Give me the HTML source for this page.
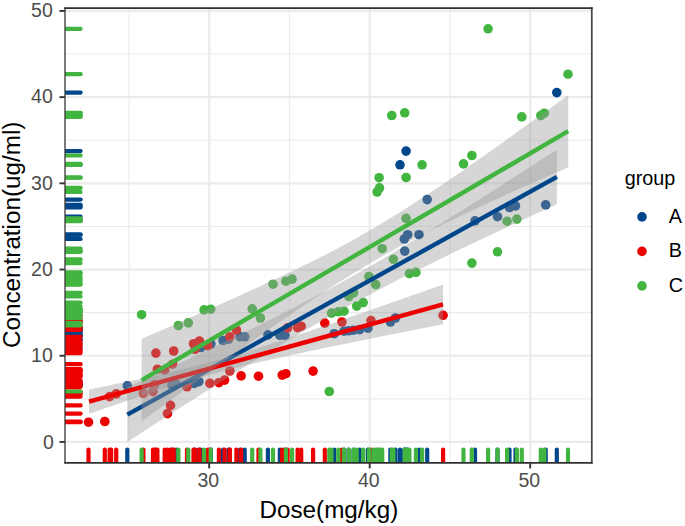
<!DOCTYPE html>
<html><head><meta charset="utf-8"><title>plot</title>
<style>html,body{margin:0;padding:0;background:#fff}svg{display:block}</style></head>
<body>
<svg width="685" height="526" viewBox="0 0 685 526" font-family="'Liberation Sans', Arial, Helvetica, sans-serif">
<rect width="685" height="526" fill="#fff"/>
<g stroke="#EBEBEB" fill="none">
<line x1="128.95" x2="128.95" y1="8.0" y2="462.75" stroke-width="1.1"/>
<line x1="289.45" x2="289.45" y1="8.0" y2="462.75" stroke-width="1.1"/>
<line x1="449.95" x2="449.95" y1="8.0" y2="462.75" stroke-width="1.1"/>
<line y1="398.83" y2="398.83" x1="65.0" x2="591.8" stroke-width="1.1"/>
<line y1="312.63" y2="312.63" x1="65.0" x2="591.8" stroke-width="1.1"/>
<line y1="226.43" y2="226.43" x1="65.0" x2="591.8" stroke-width="1.1"/>
<line y1="140.23" y2="140.23" x1="65.0" x2="591.8" stroke-width="1.1"/>
<line y1="54.03" y2="54.03" x1="65.0" x2="591.8" stroke-width="1.1"/>
<line x1="209.20" x2="209.20" y1="8.0" y2="462.75" stroke-width="2.2"/>
<line x1="369.70" x2="369.70" y1="8.0" y2="462.75" stroke-width="2.2"/>
<line x1="530.20" x2="530.20" y1="8.0" y2="462.75" stroke-width="2.2"/>
<line y1="441.93" y2="441.93" x1="65.0" x2="591.8" stroke-width="2.2"/>
<line y1="355.73" y2="355.73" x1="65.0" x2="591.8" stroke-width="2.2"/>
<line y1="269.53" y2="269.53" x1="65.0" x2="591.8" stroke-width="2.2"/>
<line y1="183.33" y2="183.33" x1="65.0" x2="591.8" stroke-width="2.2"/>
<line y1="97.13" y2="97.13" x1="65.0" x2="591.8" stroke-width="2.2"/>
<line y1="10.93" y2="10.93" x1="65.0" x2="591.8" stroke-width="2.2"/>
</g>
<g>
<circle cx="127.3" cy="385.8" r="4.8" fill="#00468B"/>
<circle cx="172.0" cy="385.2" r="4.8" fill="#00468B"/>
<circle cx="176.1" cy="384.0" r="4.8" fill="#00468B"/>
<circle cx="194.2" cy="383.4" r="4.8" fill="#00468B"/>
<circle cx="198.9" cy="381.7" r="4.8" fill="#00468B"/>
<circle cx="201.0" cy="347.5" r="4.8" fill="#00468B"/>
<circle cx="210.9" cy="344.0" r="4.8" fill="#00468B"/>
<circle cx="223.1" cy="340.5" r="4.8" fill="#00468B"/>
<circle cx="228.4" cy="339.3" r="4.8" fill="#00468B"/>
<circle cx="240.1" cy="336.8" r="4.8" fill="#00468B"/>
<circle cx="244.7" cy="336.8" r="4.8" fill="#00468B"/>
<circle cx="267.9" cy="334.9" r="4.8" fill="#00468B"/>
<circle cx="279.8" cy="335.3" r="4.8" fill="#00468B"/>
<circle cx="284.9" cy="335.3" r="4.8" fill="#00468B"/>
<circle cx="334.2" cy="333.7" r="4.8" fill="#00468B"/>
<circle cx="344.0" cy="331.2" r="4.8" fill="#00468B"/>
<circle cx="348.5" cy="330.8" r="4.8" fill="#00468B"/>
<circle cx="353.6" cy="330.2" r="4.8" fill="#00468B"/>
<circle cx="359.7" cy="329.6" r="4.8" fill="#00468B"/>
<circle cx="367.9" cy="328.2" r="4.8" fill="#00468B"/>
<circle cx="390.4" cy="322.0" r="4.8" fill="#00468B"/>
<circle cx="395.5" cy="318.0" r="4.8" fill="#00468B"/>
<circle cx="404.7" cy="251.1" r="4.8" fill="#00468B"/>
<circle cx="406.1" cy="151.1" r="4.8" fill="#00468B"/>
<circle cx="400.0" cy="164.8" r="4.8" fill="#00468B"/>
<circle cx="427.2" cy="199.6" r="4.8" fill="#00468B"/>
<circle cx="407.7" cy="234.7" r="4.8" fill="#00468B"/>
<circle cx="404.3" cy="239.0" r="4.8" fill="#00468B"/>
<circle cx="419.0" cy="234.7" r="4.8" fill="#00468B"/>
<circle cx="556.8" cy="92.6" r="4.8" fill="#00468B"/>
<circle cx="545.7" cy="204.9" r="4.8" fill="#00468B"/>
<circle cx="515.5" cy="205.9" r="4.8" fill="#00468B"/>
<circle cx="509.5" cy="207.5" r="4.8" fill="#00468B"/>
<circle cx="497.5" cy="216.7" r="4.8" fill="#00468B"/>
<circle cx="475.0" cy="220.8" r="4.8" fill="#00468B"/>
<circle cx="88.5" cy="422.2" r="4.8" fill="#ED0000"/>
<circle cx="104.8" cy="421.5" r="4.8" fill="#ED0000"/>
<circle cx="109.6" cy="396.6" r="4.8" fill="#ED0000"/>
<circle cx="116.2" cy="393.9" r="4.8" fill="#ED0000"/>
<circle cx="143.4" cy="393.4" r="4.8" fill="#ED0000"/>
<circle cx="153.0" cy="391.6" r="4.8" fill="#ED0000"/>
<circle cx="154.5" cy="384.6" r="4.8" fill="#ED0000"/>
<circle cx="155.9" cy="353.1" r="4.8" fill="#ED0000"/>
<circle cx="173.7" cy="351.0" r="4.8" fill="#ED0000"/>
<circle cx="157.4" cy="369.2" r="4.8" fill="#ED0000"/>
<circle cx="164.7" cy="370.0" r="4.8" fill="#ED0000"/>
<circle cx="172.6" cy="364.2" r="4.8" fill="#ED0000"/>
<circle cx="170.5" cy="405.4" r="4.8" fill="#ED0000"/>
<circle cx="167.5" cy="413.6" r="4.8" fill="#ED0000"/>
<circle cx="187.0" cy="386.8" r="4.8" fill="#ED0000"/>
<circle cx="193.5" cy="343.7" r="4.8" fill="#ED0000"/>
<circle cx="199.4" cy="341.0" r="4.8" fill="#ED0000"/>
<circle cx="195.1" cy="349.3" r="4.8" fill="#ED0000"/>
<circle cx="207.9" cy="345.7" r="4.8" fill="#ED0000"/>
<circle cx="209.9" cy="383.3" r="4.8" fill="#ED0000"/>
<circle cx="218.9" cy="382.7" r="4.8" fill="#ED0000"/>
<circle cx="224.6" cy="380.1" r="4.8" fill="#ED0000"/>
<circle cx="229.8" cy="371.0" r="4.8" fill="#ED0000"/>
<circle cx="241.1" cy="375.9" r="4.8" fill="#ED0000"/>
<circle cx="258.5" cy="376.2" r="4.8" fill="#ED0000"/>
<circle cx="282.2" cy="375.1" r="4.8" fill="#ED0000"/>
<circle cx="285.9" cy="373.7" r="4.8" fill="#ED0000"/>
<circle cx="313.1" cy="371.1" r="4.8" fill="#ED0000"/>
<circle cx="324.8" cy="323.1" r="4.8" fill="#ED0000"/>
<circle cx="297.6" cy="327.6" r="4.8" fill="#ED0000"/>
<circle cx="301.2" cy="326.2" r="4.8" fill="#ED0000"/>
<circle cx="287.6" cy="327.8" r="4.8" fill="#ED0000"/>
<circle cx="236.4" cy="330.0" r="4.8" fill="#ED0000"/>
<circle cx="229.8" cy="336.8" r="4.8" fill="#ED0000"/>
<circle cx="341.9" cy="322.0" r="4.8" fill="#ED0000"/>
<circle cx="371.0" cy="320.6" r="4.8" fill="#ED0000"/>
<circle cx="443.1" cy="315.3" r="4.8" fill="#ED0000"/>
<circle cx="141.6" cy="314.7" r="4.8" fill="#42B540"/>
<circle cx="178.4" cy="325.5" r="4.8" fill="#42B540"/>
<circle cx="188.3" cy="322.9" r="4.8" fill="#42B540"/>
<circle cx="204.1" cy="309.9" r="4.8" fill="#42B540"/>
<circle cx="210.7" cy="309.2" r="4.8" fill="#42B540"/>
<circle cx="252.2" cy="308.8" r="4.8" fill="#42B540"/>
<circle cx="260.4" cy="318.0" r="4.8" fill="#42B540"/>
<circle cx="273.0" cy="284.2" r="4.8" fill="#42B540"/>
<circle cx="285.9" cy="281.2" r="4.8" fill="#42B540"/>
<circle cx="292.1" cy="279.1" r="4.8" fill="#42B540"/>
<circle cx="331.5" cy="313.1" r="4.8" fill="#42B540"/>
<circle cx="338.3" cy="311.8" r="4.8" fill="#42B540"/>
<circle cx="344.0" cy="311.2" r="4.8" fill="#42B540"/>
<circle cx="329.3" cy="391.5" r="4.8" fill="#42B540"/>
<circle cx="382.2" cy="248.7" r="4.8" fill="#42B540"/>
<circle cx="393.4" cy="259.3" r="4.8" fill="#42B540"/>
<circle cx="409.4" cy="273.6" r="4.8" fill="#42B540"/>
<circle cx="415.9" cy="272.4" r="4.8" fill="#42B540"/>
<circle cx="368.9" cy="276.5" r="4.8" fill="#42B540"/>
<circle cx="375.7" cy="284.6" r="4.8" fill="#42B540"/>
<circle cx="348.9" cy="296.5" r="4.8" fill="#42B540"/>
<circle cx="353.6" cy="292.8" r="4.8" fill="#42B540"/>
<circle cx="356.7" cy="306.1" r="4.8" fill="#42B540"/>
<circle cx="363.2" cy="302.6" r="4.8" fill="#42B540"/>
<circle cx="422.1" cy="164.8" r="4.8" fill="#42B540"/>
<circle cx="463.5" cy="163.9" r="4.8" fill="#42B540"/>
<circle cx="406.1" cy="177.5" r="4.8" fill="#42B540"/>
<circle cx="379.1" cy="177.7" r="4.8" fill="#42B540"/>
<circle cx="379.5" cy="187.9" r="4.8" fill="#42B540"/>
<circle cx="377.1" cy="192.0" r="4.8" fill="#42B540"/>
<circle cx="406.1" cy="218.4" r="4.8" fill="#42B540"/>
<circle cx="391.8" cy="115.5" r="4.8" fill="#42B540"/>
<circle cx="404.7" cy="112.8" r="4.8" fill="#42B540"/>
<circle cx="488.1" cy="28.8" r="4.8" fill="#42B540"/>
<circle cx="568.0" cy="74.2" r="4.8" fill="#42B540"/>
<circle cx="544.3" cy="113.2" r="4.8" fill="#42B540"/>
<circle cx="540.8" cy="115.6" r="4.8" fill="#42B540"/>
<circle cx="521.8" cy="116.9" r="4.8" fill="#42B540"/>
<circle cx="471.9" cy="155.5" r="4.8" fill="#42B540"/>
<circle cx="507.1" cy="221.2" r="4.8" fill="#42B540"/>
<circle cx="516.9" cy="219.1" r="4.8" fill="#42B540"/>
<circle cx="497.5" cy="251.8" r="4.8" fill="#42B540"/>
<circle cx="471.9" cy="263.1" r="4.8" fill="#42B540"/>
</g>
<polygon fill="#999999" fill-opacity="0.4" points="127.3,387.3 138.0,382.3 148.8,377.4 159.5,372.4 170.3,367.5 181.0,362.5 191.7,357.4 202.5,352.4 213.2,347.3 224.0,342.2 234.7,337.0 245.4,331.8 256.2,326.6 266.9,321.3 277.7,315.9 288.4,310.5 299.1,304.9 309.9,299.3 320.6,293.6 331.4,287.9 342.1,282.0 352.8,276.0 363.6,269.9 374.3,263.7 385.1,257.4 395.8,251.0 406.5,244.6 417.3,238.1 428.0,231.5 438.8,224.9 449.5,218.2 460.2,211.4 471.0,204.7 481.7,197.9 492.5,191.0 503.2,184.2 513.9,177.3 524.7,170.4 535.4,163.5 546.2,156.5 556.9,149.6 556.9,204.2 546.2,209.2 535.4,214.1 524.7,219.1 513.9,224.0 503.2,229.0 492.5,234.1 481.7,239.1 471.0,244.2 460.2,249.3 449.5,254.5 438.8,259.7 428.0,264.9 417.3,270.2 406.5,275.6 395.8,281.0 385.1,286.6 374.3,292.2 363.6,297.9 352.8,303.6 342.1,309.5 331.4,315.5 320.6,321.6 309.9,327.8 299.1,334.1 288.4,340.5 277.7,346.9 266.9,353.4 256.2,360.0 245.4,366.6 234.7,373.3 224.0,380.1 213.2,386.8 202.5,393.6 191.7,400.5 181.0,407.3 170.3,414.2 159.5,421.1 148.8,428.0 138.0,435.0 127.3,441.9"/>
<line x1="127.3" y1="414.6" x2="556.9" y2="176.9" stroke="#00468B" stroke-width="4.4"/>
<polygon fill="#999999" fill-opacity="0.4" points="89.0,389.6 97.8,387.8 106.7,386.0 115.5,384.1 124.4,382.3 133.2,380.4 142.1,378.5 150.9,376.5 159.8,374.5 168.7,372.5 177.5,370.4 186.3,368.2 195.2,366.0 204.1,363.7 212.9,361.3 221.8,358.9 230.6,356.3 239.4,353.7 248.3,351.0 257.1,348.2 266.0,345.4 274.9,342.6 283.7,339.7 292.6,336.7 301.4,333.8 310.2,330.8 319.1,327.8 327.9,324.7 336.8,321.7 345.6,318.6 354.5,315.6 363.4,312.5 372.2,309.4 381.1,306.3 389.9,303.2 398.8,300.1 407.6,297.0 416.4,293.9 425.3,290.8 434.1,287.7 443.0,284.6 443.0,324.2 434.1,326.0 425.3,327.7 416.4,329.5 407.6,331.2 398.8,333.0 389.9,334.8 381.1,336.5 372.2,338.3 363.4,340.1 354.5,341.9 345.6,343.7 336.8,345.5 327.9,347.3 319.1,349.2 310.2,351.0 301.4,352.9 292.6,354.8 283.7,356.7 274.9,358.7 266.0,360.7 257.1,362.7 248.3,364.8 239.4,367.0 230.6,369.3 221.8,371.6 212.9,374.0 204.1,376.5 195.2,379.0 186.3,381.7 177.5,384.4 168.7,387.2 159.8,390.0 150.9,392.8 142.1,395.8 133.2,398.7 124.4,401.7 115.5,404.7 106.7,407.7 97.8,410.7 89.0,413.8"/>
<line x1="89.0" y1="401.7" x2="443.0" y2="304.4" stroke="#ED0000" stroke-width="4.4"/>
<polygon fill="#999999" fill-opacity="0.4" points="141.7,338.8 152.4,334.2 163.0,329.5 173.7,324.9 184.3,320.2 195.0,315.5 205.7,310.8 216.3,306.0 227.0,301.3 237.7,296.5 248.3,291.6 259.0,286.7 269.6,281.8 280.3,276.8 291.0,271.7 301.6,266.5 312.3,261.3 323.0,255.9 333.6,250.4 344.3,244.7 355.0,238.9 365.6,232.8 376.3,226.7 386.9,220.3 397.6,213.7 408.3,207.0 418.9,200.1 429.6,193.1 440.3,186.0 450.9,178.8 461.6,171.4 472.2,164.0 482.9,156.5 493.6,149.0 504.2,141.4 514.9,133.8 525.5,126.1 536.2,118.4 546.9,110.7 557.5,103.0 568.2,95.2 568.2,167.2 557.5,171.9 546.9,176.6 536.2,181.3 525.5,186.1 514.9,190.8 504.2,195.7 493.6,200.5 482.9,205.4 472.2,210.4 461.6,215.4 450.9,220.5 440.3,225.7 429.6,231.1 418.9,236.5 408.3,242.1 397.6,247.8 386.9,253.7 376.3,259.8 365.6,266.0 355.0,272.4 344.3,279.1 333.6,285.8 323.0,292.8 312.3,299.8 301.6,307.0 291.0,314.3 280.3,321.6 269.6,329.1 259.0,336.6 248.3,344.1 237.7,351.7 227.0,359.4 216.3,367.1 205.7,374.8 195.0,382.5 184.3,390.2 173.7,398.0 163.0,405.8 152.4,413.6 141.7,421.4"/>
<line x1="141.7" y1="380.1" x2="568.2" y2="131.2" stroke="#42B540" stroke-width="4.4"/>
<g stroke-width="4.2" stroke-linecap="round">
<line x1="65.0" x2="80.6" y1="385.8" y2="385.8" stroke="#00468B"/>
<line x1="65.0" x2="80.6" y1="385.2" y2="385.2" stroke="#00468B"/>
<line x1="65.0" x2="80.6" y1="384.0" y2="384.0" stroke="#00468B"/>
<line x1="65.0" x2="80.6" y1="383.4" y2="383.4" stroke="#00468B"/>
<line x1="65.0" x2="80.6" y1="381.7" y2="381.7" stroke="#00468B"/>
<line x1="65.0" x2="80.6" y1="347.5" y2="347.5" stroke="#00468B"/>
<line x1="65.0" x2="80.6" y1="344.0" y2="344.0" stroke="#00468B"/>
<line x1="65.0" x2="80.6" y1="340.5" y2="340.5" stroke="#00468B"/>
<line x1="65.0" x2="80.6" y1="339.3" y2="339.3" stroke="#00468B"/>
<line x1="65.0" x2="80.6" y1="336.8" y2="336.8" stroke="#00468B"/>
<line x1="65.0" x2="80.6" y1="336.8" y2="336.8" stroke="#00468B"/>
<line x1="65.0" x2="80.6" y1="334.9" y2="334.9" stroke="#00468B"/>
<line x1="65.0" x2="80.6" y1="335.3" y2="335.3" stroke="#00468B"/>
<line x1="65.0" x2="80.6" y1="335.3" y2="335.3" stroke="#00468B"/>
<line x1="65.0" x2="80.6" y1="333.7" y2="333.7" stroke="#00468B"/>
<line x1="65.0" x2="80.6" y1="331.2" y2="331.2" stroke="#00468B"/>
<line x1="65.0" x2="80.6" y1="330.8" y2="330.8" stroke="#00468B"/>
<line x1="65.0" x2="80.6" y1="330.2" y2="330.2" stroke="#00468B"/>
<line x1="65.0" x2="80.6" y1="329.6" y2="329.6" stroke="#00468B"/>
<line x1="65.0" x2="80.6" y1="328.2" y2="328.2" stroke="#00468B"/>
<line x1="65.0" x2="80.6" y1="322.0" y2="322.0" stroke="#00468B"/>
<line x1="65.0" x2="80.6" y1="318.0" y2="318.0" stroke="#00468B"/>
<line x1="65.0" x2="80.6" y1="251.1" y2="251.1" stroke="#00468B"/>
<line x1="65.0" x2="80.6" y1="151.1" y2="151.1" stroke="#00468B"/>
<line x1="65.0" x2="80.6" y1="164.8" y2="164.8" stroke="#00468B"/>
<line x1="65.0" x2="80.6" y1="199.6" y2="199.6" stroke="#00468B"/>
<line x1="65.0" x2="80.6" y1="234.7" y2="234.7" stroke="#00468B"/>
<line x1="65.0" x2="80.6" y1="239.0" y2="239.0" stroke="#00468B"/>
<line x1="65.0" x2="80.6" y1="234.7" y2="234.7" stroke="#00468B"/>
<line x1="65.0" x2="80.6" y1="92.6" y2="92.6" stroke="#00468B"/>
<line x1="65.0" x2="80.6" y1="204.9" y2="204.9" stroke="#00468B"/>
<line x1="65.0" x2="80.6" y1="205.9" y2="205.9" stroke="#00468B"/>
<line x1="65.0" x2="80.6" y1="207.5" y2="207.5" stroke="#00468B"/>
<line x1="65.0" x2="80.6" y1="216.7" y2="216.7" stroke="#00468B"/>
<line x1="65.0" x2="80.6" y1="220.8" y2="220.8" stroke="#00468B"/>
<line x1="65.0" x2="80.6" y1="422.2" y2="422.2" stroke="#ED0000"/>
<line x1="65.0" x2="80.6" y1="421.5" y2="421.5" stroke="#ED0000"/>
<line x1="65.0" x2="80.6" y1="396.6" y2="396.6" stroke="#ED0000"/>
<line x1="65.0" x2="80.6" y1="393.9" y2="393.9" stroke="#ED0000"/>
<line x1="65.0" x2="80.6" y1="393.4" y2="393.4" stroke="#ED0000"/>
<line x1="65.0" x2="80.6" y1="391.6" y2="391.6" stroke="#ED0000"/>
<line x1="65.0" x2="80.6" y1="384.6" y2="384.6" stroke="#ED0000"/>
<line x1="65.0" x2="80.6" y1="353.1" y2="353.1" stroke="#ED0000"/>
<line x1="65.0" x2="80.6" y1="351.0" y2="351.0" stroke="#ED0000"/>
<line x1="65.0" x2="80.6" y1="369.2" y2="369.2" stroke="#ED0000"/>
<line x1="65.0" x2="80.6" y1="370.0" y2="370.0" stroke="#ED0000"/>
<line x1="65.0" x2="80.6" y1="364.2" y2="364.2" stroke="#ED0000"/>
<line x1="65.0" x2="80.6" y1="405.4" y2="405.4" stroke="#ED0000"/>
<line x1="65.0" x2="80.6" y1="413.6" y2="413.6" stroke="#ED0000"/>
<line x1="65.0" x2="80.6" y1="386.8" y2="386.8" stroke="#ED0000"/>
<line x1="65.0" x2="80.6" y1="343.7" y2="343.7" stroke="#ED0000"/>
<line x1="65.0" x2="80.6" y1="341.0" y2="341.0" stroke="#ED0000"/>
<line x1="65.0" x2="80.6" y1="349.3" y2="349.3" stroke="#ED0000"/>
<line x1="65.0" x2="80.6" y1="345.7" y2="345.7" stroke="#ED0000"/>
<line x1="65.0" x2="80.6" y1="383.3" y2="383.3" stroke="#ED0000"/>
<line x1="65.0" x2="80.6" y1="382.7" y2="382.7" stroke="#ED0000"/>
<line x1="65.0" x2="80.6" y1="380.1" y2="380.1" stroke="#ED0000"/>
<line x1="65.0" x2="80.6" y1="371.0" y2="371.0" stroke="#ED0000"/>
<line x1="65.0" x2="80.6" y1="375.9" y2="375.9" stroke="#ED0000"/>
<line x1="65.0" x2="80.6" y1="376.2" y2="376.2" stroke="#ED0000"/>
<line x1="65.0" x2="80.6" y1="375.1" y2="375.1" stroke="#ED0000"/>
<line x1="65.0" x2="80.6" y1="373.7" y2="373.7" stroke="#ED0000"/>
<line x1="65.0" x2="80.6" y1="371.1" y2="371.1" stroke="#ED0000"/>
<line x1="65.0" x2="80.6" y1="323.1" y2="323.1" stroke="#ED0000"/>
<line x1="65.0" x2="80.6" y1="327.6" y2="327.6" stroke="#ED0000"/>
<line x1="65.0" x2="80.6" y1="326.2" y2="326.2" stroke="#ED0000"/>
<line x1="65.0" x2="80.6" y1="327.8" y2="327.8" stroke="#ED0000"/>
<line x1="65.0" x2="80.6" y1="330.0" y2="330.0" stroke="#ED0000"/>
<line x1="65.0" x2="80.6" y1="336.8" y2="336.8" stroke="#ED0000"/>
<line x1="65.0" x2="80.6" y1="322.0" y2="322.0" stroke="#ED0000"/>
<line x1="65.0" x2="80.6" y1="320.6" y2="320.6" stroke="#ED0000"/>
<line x1="65.0" x2="80.6" y1="315.3" y2="315.3" stroke="#ED0000"/>
<line x1="65.0" x2="80.6" y1="314.7" y2="314.7" stroke="#42B540"/>
<line x1="65.0" x2="80.6" y1="325.5" y2="325.5" stroke="#42B540"/>
<line x1="65.0" x2="80.6" y1="322.9" y2="322.9" stroke="#42B540"/>
<line x1="65.0" x2="80.6" y1="309.9" y2="309.9" stroke="#42B540"/>
<line x1="65.0" x2="80.6" y1="309.2" y2="309.2" stroke="#42B540"/>
<line x1="65.0" x2="80.6" y1="308.8" y2="308.8" stroke="#42B540"/>
<line x1="65.0" x2="80.6" y1="318.0" y2="318.0" stroke="#42B540"/>
<line x1="65.0" x2="80.6" y1="284.2" y2="284.2" stroke="#42B540"/>
<line x1="65.0" x2="80.6" y1="281.2" y2="281.2" stroke="#42B540"/>
<line x1="65.0" x2="80.6" y1="279.1" y2="279.1" stroke="#42B540"/>
<line x1="65.0" x2="80.6" y1="313.1" y2="313.1" stroke="#42B540"/>
<line x1="65.0" x2="80.6" y1="311.8" y2="311.8" stroke="#42B540"/>
<line x1="65.0" x2="80.6" y1="311.2" y2="311.2" stroke="#42B540"/>
<line x1="65.0" x2="80.6" y1="391.5" y2="391.5" stroke="#42B540"/>
<line x1="65.0" x2="80.6" y1="248.7" y2="248.7" stroke="#42B540"/>
<line x1="65.0" x2="80.6" y1="259.3" y2="259.3" stroke="#42B540"/>
<line x1="65.0" x2="80.6" y1="273.6" y2="273.6" stroke="#42B540"/>
<line x1="65.0" x2="80.6" y1="272.4" y2="272.4" stroke="#42B540"/>
<line x1="65.0" x2="80.6" y1="276.5" y2="276.5" stroke="#42B540"/>
<line x1="65.0" x2="80.6" y1="284.6" y2="284.6" stroke="#42B540"/>
<line x1="65.0" x2="80.6" y1="296.5" y2="296.5" stroke="#42B540"/>
<line x1="65.0" x2="80.6" y1="292.8" y2="292.8" stroke="#42B540"/>
<line x1="65.0" x2="80.6" y1="306.1" y2="306.1" stroke="#42B540"/>
<line x1="65.0" x2="80.6" y1="302.6" y2="302.6" stroke="#42B540"/>
<line x1="65.0" x2="80.6" y1="164.8" y2="164.8" stroke="#42B540"/>
<line x1="65.0" x2="80.6" y1="163.9" y2="163.9" stroke="#42B540"/>
<line x1="65.0" x2="80.6" y1="177.5" y2="177.5" stroke="#42B540"/>
<line x1="65.0" x2="80.6" y1="177.7" y2="177.7" stroke="#42B540"/>
<line x1="65.0" x2="80.6" y1="187.9" y2="187.9" stroke="#42B540"/>
<line x1="65.0" x2="80.6" y1="192.0" y2="192.0" stroke="#42B540"/>
<line x1="65.0" x2="80.6" y1="218.4" y2="218.4" stroke="#42B540"/>
<line x1="65.0" x2="80.6" y1="115.5" y2="115.5" stroke="#42B540"/>
<line x1="65.0" x2="80.6" y1="112.8" y2="112.8" stroke="#42B540"/>
<line x1="65.0" x2="80.6" y1="28.8" y2="28.8" stroke="#42B540"/>
<line x1="65.0" x2="80.6" y1="74.2" y2="74.2" stroke="#42B540"/>
<line x1="65.0" x2="80.6" y1="113.2" y2="113.2" stroke="#42B540"/>
<line x1="65.0" x2="80.6" y1="115.6" y2="115.6" stroke="#42B540"/>
<line x1="65.0" x2="80.6" y1="116.9" y2="116.9" stroke="#42B540"/>
<line x1="65.0" x2="80.6" y1="155.5" y2="155.5" stroke="#42B540"/>
<line x1="65.0" x2="80.6" y1="221.2" y2="221.2" stroke="#42B540"/>
<line x1="65.0" x2="80.6" y1="219.1" y2="219.1" stroke="#42B540"/>
<line x1="65.0" x2="80.6" y1="251.8" y2="251.8" stroke="#42B540"/>
<line x1="65.0" x2="80.6" y1="263.1" y2="263.1" stroke="#42B540"/>
<line y1="462.75" y2="449.5" x1="127.3" x2="127.3" stroke="#00468B"/>
<line y1="462.75" y2="449.5" x1="172.0" x2="172.0" stroke="#00468B"/>
<line y1="462.75" y2="449.5" x1="176.1" x2="176.1" stroke="#00468B"/>
<line y1="462.75" y2="449.5" x1="194.2" x2="194.2" stroke="#00468B"/>
<line y1="462.75" y2="449.5" x1="198.9" x2="198.9" stroke="#00468B"/>
<line y1="462.75" y2="449.5" x1="201.0" x2="201.0" stroke="#00468B"/>
<line y1="462.75" y2="449.5" x1="210.9" x2="210.9" stroke="#00468B"/>
<line y1="462.75" y2="449.5" x1="223.1" x2="223.1" stroke="#00468B"/>
<line y1="462.75" y2="449.5" x1="228.4" x2="228.4" stroke="#00468B"/>
<line y1="462.75" y2="449.5" x1="240.1" x2="240.1" stroke="#00468B"/>
<line y1="462.75" y2="449.5" x1="244.7" x2="244.7" stroke="#00468B"/>
<line y1="462.75" y2="449.5" x1="267.9" x2="267.9" stroke="#00468B"/>
<line y1="462.75" y2="449.5" x1="279.8" x2="279.8" stroke="#00468B"/>
<line y1="462.75" y2="449.5" x1="284.9" x2="284.9" stroke="#00468B"/>
<line y1="462.75" y2="449.5" x1="334.2" x2="334.2" stroke="#00468B"/>
<line y1="462.75" y2="449.5" x1="344.0" x2="344.0" stroke="#00468B"/>
<line y1="462.75" y2="449.5" x1="348.5" x2="348.5" stroke="#00468B"/>
<line y1="462.75" y2="449.5" x1="353.6" x2="353.6" stroke="#00468B"/>
<line y1="462.75" y2="449.5" x1="359.7" x2="359.7" stroke="#00468B"/>
<line y1="462.75" y2="449.5" x1="367.9" x2="367.9" stroke="#00468B"/>
<line y1="462.75" y2="449.5" x1="390.4" x2="390.4" stroke="#00468B"/>
<line y1="462.75" y2="449.5" x1="395.5" x2="395.5" stroke="#00468B"/>
<line y1="462.75" y2="449.5" x1="404.7" x2="404.7" stroke="#00468B"/>
<line y1="462.75" y2="449.5" x1="406.1" x2="406.1" stroke="#00468B"/>
<line y1="462.75" y2="449.5" x1="400.0" x2="400.0" stroke="#00468B"/>
<line y1="462.75" y2="449.5" x1="427.2" x2="427.2" stroke="#00468B"/>
<line y1="462.75" y2="449.5" x1="407.7" x2="407.7" stroke="#00468B"/>
<line y1="462.75" y2="449.5" x1="404.3" x2="404.3" stroke="#00468B"/>
<line y1="462.75" y2="449.5" x1="419.0" x2="419.0" stroke="#00468B"/>
<line y1="462.75" y2="449.5" x1="556.8" x2="556.8" stroke="#00468B"/>
<line y1="462.75" y2="449.5" x1="545.7" x2="545.7" stroke="#00468B"/>
<line y1="462.75" y2="449.5" x1="515.5" x2="515.5" stroke="#00468B"/>
<line y1="462.75" y2="449.5" x1="509.5" x2="509.5" stroke="#00468B"/>
<line y1="462.75" y2="449.5" x1="497.5" x2="497.5" stroke="#00468B"/>
<line y1="462.75" y2="449.5" x1="475.0" x2="475.0" stroke="#00468B"/>
<line y1="462.75" y2="449.5" x1="88.5" x2="88.5" stroke="#ED0000"/>
<line y1="462.75" y2="449.5" x1="104.8" x2="104.8" stroke="#ED0000"/>
<line y1="462.75" y2="449.5" x1="109.6" x2="109.6" stroke="#ED0000"/>
<line y1="462.75" y2="449.5" x1="116.2" x2="116.2" stroke="#ED0000"/>
<line y1="462.75" y2="449.5" x1="143.4" x2="143.4" stroke="#ED0000"/>
<line y1="462.75" y2="449.5" x1="153.0" x2="153.0" stroke="#ED0000"/>
<line y1="462.75" y2="449.5" x1="154.5" x2="154.5" stroke="#ED0000"/>
<line y1="462.75" y2="449.5" x1="155.9" x2="155.9" stroke="#ED0000"/>
<line y1="462.75" y2="449.5" x1="173.7" x2="173.7" stroke="#ED0000"/>
<line y1="462.75" y2="449.5" x1="157.4" x2="157.4" stroke="#ED0000"/>
<line y1="462.75" y2="449.5" x1="164.7" x2="164.7" stroke="#ED0000"/>
<line y1="462.75" y2="449.5" x1="172.6" x2="172.6" stroke="#ED0000"/>
<line y1="462.75" y2="449.5" x1="170.5" x2="170.5" stroke="#ED0000"/>
<line y1="462.75" y2="449.5" x1="167.5" x2="167.5" stroke="#ED0000"/>
<line y1="462.75" y2="449.5" x1="187.0" x2="187.0" stroke="#ED0000"/>
<line y1="462.75" y2="449.5" x1="193.5" x2="193.5" stroke="#ED0000"/>
<line y1="462.75" y2="449.5" x1="199.4" x2="199.4" stroke="#ED0000"/>
<line y1="462.75" y2="449.5" x1="195.1" x2="195.1" stroke="#ED0000"/>
<line y1="462.75" y2="449.5" x1="207.9" x2="207.9" stroke="#ED0000"/>
<line y1="462.75" y2="449.5" x1="209.9" x2="209.9" stroke="#ED0000"/>
<line y1="462.75" y2="449.5" x1="218.9" x2="218.9" stroke="#ED0000"/>
<line y1="462.75" y2="449.5" x1="224.6" x2="224.6" stroke="#ED0000"/>
<line y1="462.75" y2="449.5" x1="229.8" x2="229.8" stroke="#ED0000"/>
<line y1="462.75" y2="449.5" x1="241.1" x2="241.1" stroke="#ED0000"/>
<line y1="462.75" y2="449.5" x1="258.5" x2="258.5" stroke="#ED0000"/>
<line y1="462.75" y2="449.5" x1="282.2" x2="282.2" stroke="#ED0000"/>
<line y1="462.75" y2="449.5" x1="285.9" x2="285.9" stroke="#ED0000"/>
<line y1="462.75" y2="449.5" x1="313.1" x2="313.1" stroke="#ED0000"/>
<line y1="462.75" y2="449.5" x1="324.8" x2="324.8" stroke="#ED0000"/>
<line y1="462.75" y2="449.5" x1="297.6" x2="297.6" stroke="#ED0000"/>
<line y1="462.75" y2="449.5" x1="301.2" x2="301.2" stroke="#ED0000"/>
<line y1="462.75" y2="449.5" x1="287.6" x2="287.6" stroke="#ED0000"/>
<line y1="462.75" y2="449.5" x1="236.4" x2="236.4" stroke="#ED0000"/>
<line y1="462.75" y2="449.5" x1="229.8" x2="229.8" stroke="#ED0000"/>
<line y1="462.75" y2="449.5" x1="341.9" x2="341.9" stroke="#ED0000"/>
<line y1="462.75" y2="449.5" x1="371.0" x2="371.0" stroke="#ED0000"/>
<line y1="462.75" y2="449.5" x1="443.1" x2="443.1" stroke="#ED0000"/>
<line y1="462.75" y2="449.5" x1="141.6" x2="141.6" stroke="#42B540"/>
<line y1="462.75" y2="449.5" x1="178.4" x2="178.4" stroke="#42B540"/>
<line y1="462.75" y2="449.5" x1="188.3" x2="188.3" stroke="#42B540"/>
<line y1="462.75" y2="449.5" x1="204.1" x2="204.1" stroke="#42B540"/>
<line y1="462.75" y2="449.5" x1="210.7" x2="210.7" stroke="#42B540"/>
<line y1="462.75" y2="449.5" x1="252.2" x2="252.2" stroke="#42B540"/>
<line y1="462.75" y2="449.5" x1="260.4" x2="260.4" stroke="#42B540"/>
<line y1="462.75" y2="449.5" x1="273.0" x2="273.0" stroke="#42B540"/>
<line y1="462.75" y2="449.5" x1="285.9" x2="285.9" stroke="#42B540"/>
<line y1="462.75" y2="449.5" x1="292.1" x2="292.1" stroke="#42B540"/>
<line y1="462.75" y2="449.5" x1="331.5" x2="331.5" stroke="#42B540"/>
<line y1="462.75" y2="449.5" x1="338.3" x2="338.3" stroke="#42B540"/>
<line y1="462.75" y2="449.5" x1="344.0" x2="344.0" stroke="#42B540"/>
<line y1="462.75" y2="449.5" x1="329.3" x2="329.3" stroke="#42B540"/>
<line y1="462.75" y2="449.5" x1="382.2" x2="382.2" stroke="#42B540"/>
<line y1="462.75" y2="449.5" x1="393.4" x2="393.4" stroke="#42B540"/>
<line y1="462.75" y2="449.5" x1="409.4" x2="409.4" stroke="#42B540"/>
<line y1="462.75" y2="449.5" x1="415.9" x2="415.9" stroke="#42B540"/>
<line y1="462.75" y2="449.5" x1="368.9" x2="368.9" stroke="#42B540"/>
<line y1="462.75" y2="449.5" x1="375.7" x2="375.7" stroke="#42B540"/>
<line y1="462.75" y2="449.5" x1="348.9" x2="348.9" stroke="#42B540"/>
<line y1="462.75" y2="449.5" x1="353.6" x2="353.6" stroke="#42B540"/>
<line y1="462.75" y2="449.5" x1="356.7" x2="356.7" stroke="#42B540"/>
<line y1="462.75" y2="449.5" x1="363.2" x2="363.2" stroke="#42B540"/>
<line y1="462.75" y2="449.5" x1="422.1" x2="422.1" stroke="#42B540"/>
<line y1="462.75" y2="449.5" x1="463.5" x2="463.5" stroke="#42B540"/>
<line y1="462.75" y2="449.5" x1="406.1" x2="406.1" stroke="#42B540"/>
<line y1="462.75" y2="449.5" x1="379.1" x2="379.1" stroke="#42B540"/>
<line y1="462.75" y2="449.5" x1="379.5" x2="379.5" stroke="#42B540"/>
<line y1="462.75" y2="449.5" x1="377.1" x2="377.1" stroke="#42B540"/>
<line y1="462.75" y2="449.5" x1="406.1" x2="406.1" stroke="#42B540"/>
<line y1="462.75" y2="449.5" x1="391.8" x2="391.8" stroke="#42B540"/>
<line y1="462.75" y2="449.5" x1="404.7" x2="404.7" stroke="#42B540"/>
<line y1="462.75" y2="449.5" x1="488.1" x2="488.1" stroke="#42B540"/>
<line y1="462.75" y2="449.5" x1="568.0" x2="568.0" stroke="#42B540"/>
<line y1="462.75" y2="449.5" x1="544.3" x2="544.3" stroke="#42B540"/>
<line y1="462.75" y2="449.5" x1="540.8" x2="540.8" stroke="#42B540"/>
<line y1="462.75" y2="449.5" x1="521.8" x2="521.8" stroke="#42B540"/>
<line y1="462.75" y2="449.5" x1="471.9" x2="471.9" stroke="#42B540"/>
<line y1="462.75" y2="449.5" x1="507.1" x2="507.1" stroke="#42B540"/>
<line y1="462.75" y2="449.5" x1="516.9" x2="516.9" stroke="#42B540"/>
<line y1="462.75" y2="449.5" x1="497.5" x2="497.5" stroke="#42B540"/>
<line y1="462.75" y2="449.5" x1="471.9" x2="471.9" stroke="#42B540"/>
<line y1="462.75" y2="449.5" x1="373.4" x2="373.4" stroke="#42B540"/>
<line y1="462.75" y2="449.5" x1="111.1" x2="111.1" stroke="#ED0000"/>
</g>
<rect x="0" y="8.0" width="65.0" height="464.75" fill="#fff"/>
<rect x="64.0" y="462.75" width="528.8" height="12" fill="#fff"/>
<line x1="65.0" x2="65.0" y1="7.2" y2="463.55" stroke="#3d3d3d" stroke-width="1.35"/>
<line x1="591.8" x2="591.8" y1="7.2" y2="463.55" stroke="#484848" stroke-width="1.75"/>
<line x1="64.35" x2="592.65" y1="8.0" y2="8.0" stroke="#303030" stroke-width="1.75"/>
<line x1="64.35" x2="592.65" y1="462.75" y2="462.75" stroke="#303030" stroke-width="1.75"/>
<g stroke="#333333" stroke-width="1.9">
<line x1="59.5" x2="65.0" y1="441.93" y2="441.93"/>
<line x1="59.5" x2="65.0" y1="355.73" y2="355.73"/>
<line x1="59.5" x2="65.0" y1="269.53" y2="269.53"/>
<line x1="59.5" x2="65.0" y1="183.33" y2="183.33"/>
<line x1="59.5" x2="65.0" y1="97.13" y2="97.13"/>
<line x1="59.5" x2="65.0" y1="10.93" y2="10.93"/>
<line y1="462.75" y2="468.4" x1="209.20" x2="209.20"/>
<line y1="462.75" y2="468.4" x1="369.70" x2="369.70"/>
<line y1="462.75" y2="468.4" x1="530.20" x2="530.20"/>
</g>
<g fill="#4D4D4D" font-size="19.5px">
<text x="53.9" y="448.53" text-anchor="end">0</text>
<text x="52.8" y="361.93" text-anchor="end">10</text>
<text x="52.8" y="275.73" text-anchor="end">20</text>
<text x="52.8" y="189.53" text-anchor="end">30</text>
<text x="52.8" y="103.33" text-anchor="end">40</text>
<text x="52.8" y="17.13" text-anchor="end">50</text>
<text x="208.30" y="487.1" text-anchor="middle">30</text>
<text x="368.80" y="487.1" text-anchor="middle">40</text>
<text x="529.30" y="487.1" text-anchor="middle">50</text>
</g>
<text x="328.9" y="517.6" text-anchor="middle" font-size="24.25px" fill="#000">Dose(mg/kg)</text>
<text transform="translate(20,234.8) rotate(-90)" text-anchor="middle" font-size="24.25px" fill="#000">Concentration(ug/ml)</text>
<text x="624.7" y="184.9" font-size="19.8px" fill="#000">group</text>
<circle cx="642" cy="216.9" r="4.8" fill="#00468B"/>
<text x="668.8" y="222.6" font-size="19.8px" fill="#000">A</text>
<circle cx="642" cy="251.4" r="4.8" fill="#ED0000"/>
<text x="668.8" y="257.1" font-size="19.8px" fill="#000">B</text>
<circle cx="642" cy="285.9" r="4.8" fill="#42B540"/>
<text x="668.8" y="291.6" font-size="19.8px" fill="#000">C</text>
</svg>
</body></html>
